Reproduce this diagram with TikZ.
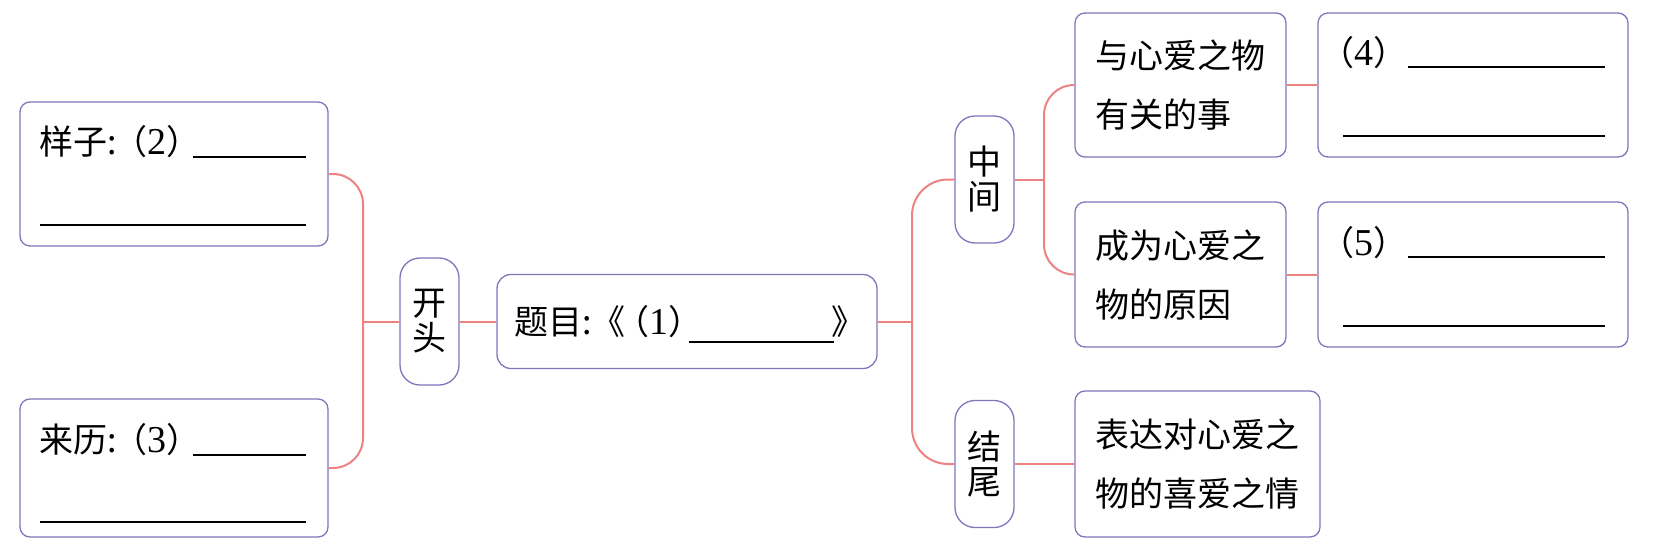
\documentclass[tikz,border=0pt]{standalone}
\usepackage{fontspec}
\setmainfont{Noto Sans CJK SC}
\newfontfamily\digfont{Liberation Serif}
\newcommand{\dg}[1]{{\digfont\fontsize{38}{38}\selectfont #1}}
\definecolor{bordc}{RGB}{128,118,188}
\definecolor{connc}{RGB}{238,130,130}
\begin{document}
\begin{tikzpicture}[x=1pt,y=-1pt,
  box/.style={draw=bordc, line width=1.3pt, rounded corners=10pt, inner sep=0pt, align=left, font=\fontsize{34}{59}\selectfont},
  vbox/.style={draw=bordc, line width=1.3pt, rounded corners=20pt, minimum width=59pt, minimum height=127pt, inner sep=0pt, align=center, font=\fontsize{34}{35}\selectfont},
  conn/.style={draw=connc, line width=2pt},
  txt/.style={inner sep=0pt, anchor=west, font=\fontsize{34}{40}\selectfont},
  blank/.style={draw=black, line width=1.3pt}]
\useasboundingbox[fill=white] (0,0) rectangle (1662,554);

% left side
\node[box, minimum width=308pt, minimum height=144pt] (yangzi) at (174,174) {};
\node[txt] (yangzit) at (39,142) {样子:\kern-3pt（\dg{2}）};
\draw[blank] (193,157) -- (306,157);
\draw[blank] (40,225) -- (306,225);

\node[box, minimum width=308pt, minimum height=138pt] (laili) at (174,468) {};
\node[txt] (lailit) at (39,440) {来历:\kern-3pt（\dg{3}）};
\draw[blank] (193,455) -- (306,455);
\draw[blank] (40,522) -- (306,522);

\node[vbox] (kaitou) at (429.5,321.5) {开\\头};

\node[box, rounded corners=14pt, minimum width=380pt, minimum height=94pt] (title) at (687,321.5) {};
\node[txt] (titlet) at (514,321.5) {题目:《\kern-10pt（\dg{1}）};
\draw[blank] (689,342) -- (834,342);
\node[txt, anchor=east] (titlee) at (866,321.5) {》};

% right side
\node[vbox] (zhongjian) at (984.5,179.5) {中\\间};
\node[vbox] (jiewei) at (984.5,464) {结\\尾};

\node[box, minimum width=211pt, minimum height=144pt] (youguan) at (1180.5,85) {与心爱之物\\有关的事};
\node[box, minimum width=310pt, minimum height=144pt] (four) at (1473,85) {};
\node[txt] (fourt) at (1320,53) {（\dg{4}）};
\draw[blank] (1408,67) -- (1605,67);
\draw[blank] (1343,136) -- (1605,136);

\node[box, minimum width=211pt, minimum height=145pt] (yuanyin) at (1180.5,274.5) {成为心爱之\\物的原因};
\node[box, minimum width=310pt, minimum height=145pt] (five) at (1473,274.5) {};
\node[txt] (fivet) at (1320,243) {（\dg{5}）};
\draw[blank] (1408,257) -- (1605,257);
\draw[blank] (1343,326) -- (1605,326);

\node[box, minimum width=245pt, minimum height=146pt] (biaoda) at (1197.5,464) {表达对心爱之\\物的喜爱之情};

% connectors
\coordinate (lj) at (363,321.5);
\coordinate (rj) at (912,321.5);
\coordinate (mj) at (1044,179.5);
\draw[conn, rounded corners=30pt] (yangzi.east) -- (yangzi.east -| lj) -- (laili.east -| lj) -- (laili.east);
\draw[conn] (kaitou.west) -- (lj);
\draw[conn] (kaitou.east) -- (title.west);
\draw[conn] (title.east) -- (rj);
\draw[conn, rounded corners=36pt] (zhongjian.west) -- (zhongjian.west -| rj) -- (jiewei.west -| rj) -- (jiewei.west);
\draw[conn] (zhongjian.east) -- (mj);
\draw[conn, rounded corners=30pt] (youguan.west) -- (youguan.west -| mj) -- (yuanyin.west -| mj) -- (yuanyin.west);
\draw[conn] (jiewei.east) -- (biaoda.west);
\draw[conn] (youguan.east) -- (four.west);
\draw[conn] (yuanyin.east) -- (five.west);
\end{tikzpicture}
\end{document}
